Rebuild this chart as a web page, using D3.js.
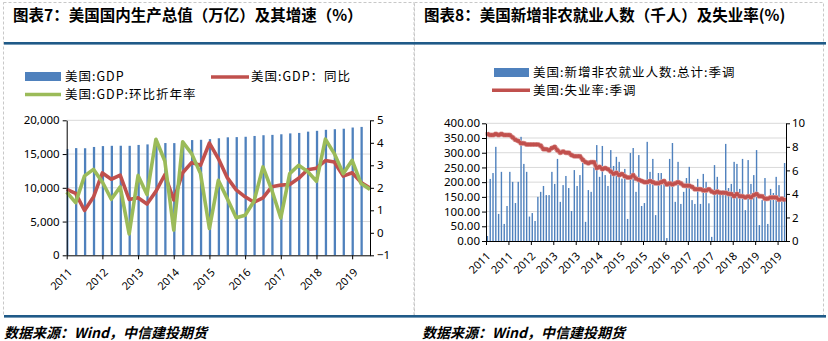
<!DOCTYPE html>
<html><head><meta charset="utf-8">
<script src="https://cdn.jsdelivr.net/npm/d3@7"></script>
<style>
html,body{margin:0;padding:0;background:#fff;}
svg{display:block;}
</style></head><body>
<svg id="c" width="828" height="341"></svg>
<script>
// ---------------- DATA ----------------
const gdpQuarters = ["2011Q1","2011Q2","2011Q3","2011Q4","2012Q1","2012Q2","2012Q3","2012Q4",
  "2013Q1","2013Q2","2013Q3","2013Q4","2014Q1","2014Q2","2014Q3","2014Q4",
  "2015Q1","2015Q2","2015Q3","2015Q4","2016Q1","2016Q2","2016Q3","2016Q4",
  "2017Q1","2017Q2","2017Q3","2017Q4","2018Q1","2018Q2","2018Q3","2018Q4",
  "2019Q1","2019Q2","2019Q3"];
const gdpLevel = [15750,15880,15860,16050,16180,16220,16230,16220,16350,16430,16580,16630,
  16620,16820,17070,17110,17210,17340,17480,17510,17560,17680,17790,17840,
  17930,18060,18130,18320,18440,18590,18680,18750,18930,19020];
const gdpYoY = [1.93,1.75,0.99,1.59,2.66,2.38,2.56,1.48,1.56,1.28,1.84,2.58,1.46,2.67,3.12,3.0,
  3.99,3.30,2.45,1.91,1.60,1.36,1.55,2.05,2.12,2.15,2.42,2.80,2.87,3.21,3.15,2.52,2.67,2.24,1.99];
const gdpQoQ = [1.81,1.34,2.53,2.82,2.26,1.49,2.04,-0.05,2.55,1.70,4.16,3.19,0.12,4.04,3.52,2.63,
  0.19,2.33,1.52,0.67,0.78,1.40,2.93,1.89,0.66,2.63,3.00,2.73,2.29,4.16,3.52,2.63,3.22,2.19,1.93];
const gdpAxisTicks = [0,5000,10000,15000,20000];
const gdpRateTicks = [-1,0,1,2,3,4,5];
const gdpYearLabels = ["2011","2012","2013","2014","2015","2016","2017","2018","2019"];

const nfpMonths = d3.timeMonth.range(new Date(2011,0,1), new Date(2019,11,1)).map(d3.timeFormat("%Y-%m"));
const nfpValues = [17,211,231,320,92,235,58,119,235,201,129,201,
  354,262,235,83,95,68,150,167,187,156,156,235,
  194,279,133,190,221,180,102,241,187,224,265,65,
  173,167,249,326,218,323,224,187,309,255,286,269,
  212,245,75,299,316,167,292,119,129,337,235,279,
  88,231,231,194,10,279,333,133,269,126,167,214,
  252,139,126,211,126,228,201,128,14,258,218,173,
  173,330,180,194,269,262,177,279,105,275,194,224,
  309,54,139,214,58,177,163,218,190,139,265];
const unempRate = [9.1,9.0,9.0,9.1,9.0,9.1,9.0,9.0,9.0,8.8,8.6,8.5,
  8.3,8.3,8.2,8.2,8.2,8.2,8.2,8.1,7.8,7.8,7.7,7.9,
  8.0,7.7,7.5,7.6,7.5,7.5,7.3,7.2,7.2,7.2,6.9,6.7,
  6.6,6.7,6.7,6.2,6.3,6.1,6.2,6.1,5.9,5.7,5.8,5.6,
  5.7,5.5,5.4,5.4,5.6,5.3,5.2,5.1,5.0,5.0,5.1,5.0,
  4.9,4.9,5.0,5.1,4.8,4.9,4.8,4.9,5.0,4.9,4.7,4.7,
  4.7,4.6,4.4,4.4,4.4,4.3,4.3,4.4,4.2,4.1,4.2,4.1,
  4.1,4.1,4.0,4.0,3.8,4.0,3.8,3.8,3.7,3.8,3.7,3.9,
  4.0,3.8,3.8,3.6,3.6,3.7,3.7,3.7,3.5,3.6,3.5];
const nfpAxisTicks = [0,50,100,150,200,250,300,350,400];
const unempAxisTicks = [0,2,4,6,8,10];
const nfpTickIdx = [0,8,16,24,32,40,48,56,64,72,80,88,96,104];
const nfpXLabels = ["2011","2011","2012","2013","2013","2014","2015","2015","2016","2017","2017","2018","2019","2019"];

const titles = ["图表7：美国国内生产总值（万亿）及其增速（%）","图表8：美国新增非农就业人数（千人）及失业率(%)"];
const gdpLegend = ["美国:GDP","美国:GDP：同比","美国:GDP:环比折年率"];
const nfpLegend = ["美国:新增非农就业人数:总计:季调","美国:失业率:季调"];
const sourceText = "数据来源：Wind，中信建投期货";

// ---------------- STYLE ----------------
const C = {blue:"#4F81BD", red:"#C0504D", green:"#9BBB59", grid:"#D9D9D9", navy:"#1F5A88", frame:"#C8C8C8"};
const NUM = "'Noto Sans','DejaVu Sans',sans-serif";
const CJK = "'Noto Sans CJK SC','Noto Sans',sans-serif";
const svg = d3.select("#c");

// frames
[[3.5,410.5],[414.5,409]].forEach(([x,w])=>{
  svg.append("rect").attr("x",x).attr("y",2.5).attr("width",w).attr("height",313)
    .attr("fill","none").attr("stroke",C.frame).attr("stroke-dasharray","3,2");
});
svg.append("rect").attr("x",4).attr("y",42).attr("width",822).attr("height",2.6).attr("fill",C.navy);
svg.append("rect").attr("x",4).attr("y",315).attr("width",822).attr("height",2.6).attr("fill",C.navy);

// titles
[[13,titles[0]],[424,titles[1]]].forEach(([x,t])=>{
  svg.append("text").attr("x",x).attr("y",21).text(t)
    .attr("font-family",CJK).attr("font-weight",700).attr("font-size",15.5).attr("fill","#000");
});
// source
[4,422].forEach(x=>{
  svg.append("text").attr("x",x).attr("y",338).text(sourceText)
    .attr("font-family",CJK).attr("font-style","italic").attr("font-weight",700)
    .attr("font-size",14).attr("fill","#000");
});

function styleAxis(g, size){
  g.selectAll("path.domain").attr("stroke","#000");
  g.selectAll(".tick line").attr("stroke","#000");
  g.selectAll("text").attr("font-family",NUM).attr("font-size",size).attr("fill","#000");
}
function legendText(x, y, t){
  svg.append("text").attr("x",x).attr("y",y).attr("dy","0.36em").text(t)
    .attr("font-family",CJK).attr("font-size",12.5).attr("letter-spacing",1).attr("fill","#000");
}

// ---------------- LEFT CHART ----------------
const L = {l:66.7, r:370, t:120.3, b:255.3};
const xL = d3.scalePoint().domain(gdpQuarters).range([L.l, L.r]);
const yL = d3.scaleLinear().domain([0,20000]).range([L.b, L.t]);
const yR = d3.scaleLinear().domain([-1,5]).range([L.b, L.t]);

svg.append("clipPath").attr("id","clipL").append("rect")
  .attr("x",L.l).attr("y",L.t-10).attr("width",L.r-L.l).attr("height",L.b-L.t+10);

svg.append("g").selectAll("line").data(gdpAxisTicks.slice(1)).join("line")
  .attr("x1",L.l).attr("x2",L.r).attr("y1",d=>yL(d)).attr("y2",d=>yL(d))
  .attr("stroke",C.grid).attr("stroke-width",1);

svg.append("g").attr("clip-path","url(#clipL)").selectAll("rect").data(gdpLevel).join("rect")
  .attr("x",(d,i)=>xL(gdpQuarters[i])-0.6).attr("width",2.3)
  .attr("y",d=>yL(d)).attr("height",d=>yL(0)-yL(d)).attr("fill",C.blue);

const lineL = d3.line().x((d,i)=>xL(gdpQuarters[i])).y(d=>yR(d));
svg.append("path").datum(gdpYoY).attr("d",lineL).attr("fill","none")
  .attr("stroke",C.red).attr("stroke-width",3.6).attr("stroke-linejoin","round");
svg.append("path").datum(gdpQoQ).attr("d",lineL).attr("fill","none")
  .attr("stroke",C.green).attr("stroke-width",3.6).attr("stroke-linejoin","round");

const axL = svg.append("g").attr("transform",`translate(${L.l},0)`)
  .call(d3.axisLeft(yL).tickValues(gdpAxisTicks).tickFormat(d3.format(",")).tickSize(4).tickSizeOuter(0).tickPadding(3));
styleAxis(axL, 11.5);
const axR = svg.append("g").attr("transform",`translate(${L.r},0)`)
  .call(d3.axisRight(yR).tickValues(gdpRateTicks).tickFormat(d3.format("d")).tickSize(4).tickSizeOuter(0).tickPadding(3));
styleAxis(axR, 11.5);
const axB = svg.append("g").attr("transform",`translate(0,${L.b})`)
  .call(d3.axisBottom(xL).tickValues(gdpQuarters.filter((q,i)=>i%4===0 && i<34))
    .tickFormat((q,i)=>gdpYearLabels[i]).tickSize(4).tickSizeOuter(0));
styleAxis(axB, 11);
axB.selectAll(".tick text").attr("text-anchor","end").attr("y",0).attr("dy","0.35em")
  .attr("transform","translate(3,15) rotate(-45)");

// legend left
svg.append("rect").attr("x",25).attr("y",72).attr("width",36).attr("height",9).attr("fill",C.blue);
svg.append("line").attr("x1",211).attr("x2",249).attr("y1",77).attr("y2",77).attr("stroke",C.red).attr("stroke-width",3.6);
svg.append("line").attr("x1",25).attr("x2",61).attr("y1",94.5).attr("y2",94.5).attr("stroke",C.green).attr("stroke-width",3.6);
legendText(65, 76.3, gdpLegend[0]);
legendText(251, 76.3, gdpLegend[1]);
legendText(65, 94.7, gdpLegend[2]);

// ---------------- RIGHT CHART ----------------
const R = {l:486, r:786, t:123.3, b:241};
const xI = d3.scaleLinear().domain([0, nfpMonths.length]).range([R.l, R.r]);
const yN = d3.scaleLinear().domain([0,400]).range([R.b, R.t]);
const yU = d3.scaleLinear().domain([0,10]).range([R.b, R.t]);

svg.append("g").selectAll("line").data(nfpAxisTicks.slice(1)).join("line")
  .attr("x1",R.l).attr("x2",R.r).attr("y1",d=>yN(d)).attr("y2",d=>yN(d))
  .attr("stroke",C.grid).attr("stroke-width",1);

svg.append("g").selectAll("rect").data(nfpValues).join("rect")
  .attr("x",(d,i)=>xI(i+0.5)-0.7).attr("width",1.4)
  .attr("y",d=>yN(d)).attr("height",d=>yN(0)-yN(d)).attr("fill",C.blue);

const lineU = d3.line().x((d,i)=>xI(i+0.5)).y(d=>yU(d));
svg.append("path").datum(unempRate).attr("d",lineU).attr("fill","none")
  .attr("stroke","#E0A09E").attr("stroke-width",5).attr("stroke-linejoin","round");
svg.append("path").datum(unempRate).attr("d",lineU).attr("fill","none")
  .attr("stroke",C.red).attr("stroke-width",3).attr("stroke-linejoin","round");
svg.append("g").selectAll("rect").data(unempRate).join("rect")
  .attr("x",(d,i)=>xI(i+0.5)-1.8).attr("y",d=>yU(d)-1.8).attr("width",3.6).attr("height",3.6)
  .attr("fill",C.red).attr("opacity",0.8);

const axNL = svg.append("g").attr("transform",`translate(${R.l},0)`)
  .call(d3.axisLeft(yN).tickValues(nfpAxisTicks).tickFormat(d3.format(".2f")).tickSize(4).tickSizeOuter(0).tickPadding(2));
styleAxis(axNL, 11.5);
const axNR = svg.append("g").attr("transform",`translate(${R.r},0)`)
  .call(d3.axisRight(yU).tickValues(unempAxisTicks).tickSize(4).tickSizeOuter(0).tickPadding(2));
styleAxis(axNR, 11.5);
const axNB = svg.append("g").attr("transform",`translate(0,${R.b})`)
  .call(d3.axisBottom(xI).tickValues(nfpTickIdx).tickFormat((d,i)=>nfpXLabels[i]).tickSize(4).tickSizeOuter(0));
styleAxis(axNB, 11);
axNB.selectAll(".tick text").attr("text-anchor","end").attr("y",0).attr("dy","0.35em")
  .attr("transform","translate(2,13) rotate(-45)");

// legend right
svg.append("rect").attr("x",494).attr("y",68).attr("width",35).attr("height",9).attr("fill",C.blue);
svg.append("line").attr("x1",492).attr("x2",530).attr("y1",90.3).attr("y2",90.3).attr("stroke",C.red).attr("stroke-width",3.6);
legendText(533, 72, nfpLegend[0]);
legendText(533, 90.5, nfpLegend[1]);
</script>
</body></html>
